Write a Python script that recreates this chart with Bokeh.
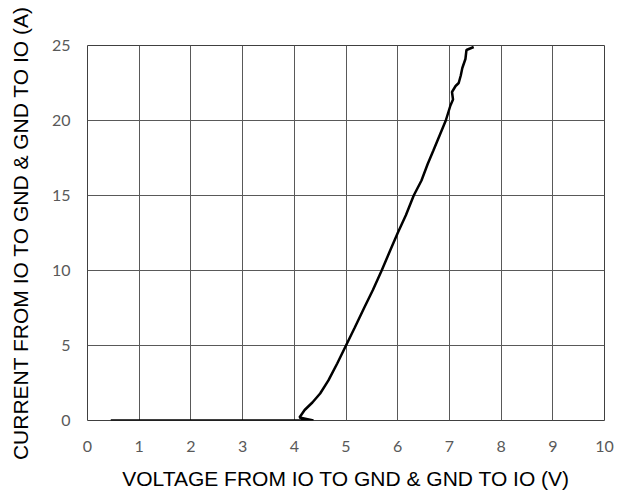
from bokeh.plotting import figure
from bokeh.models import Range1d, FixedTicker
from bokeh.embed import file_html
from bokeh.resources import INLINE

# Data
voltage = [0.45, 1.0, 2.0, 3.0, 4.0, 4.37, 4.1, 4.2, 4.35, 4.5, 4.66, 4.83, 5.0, 5.17,
           5.35, 5.52, 5.69, 5.85, 6.0, 6.16, 6.31, 6.46, 6.58, 6.69, 6.81, 6.93,
           7.02, 7.07, 7.05, 7.12, 7.18, 7.22, 7.25, 7.31, 7.33, 7.40, 7.47]
current = [0, 0, 0, 0, 0, 0, 0.2, 0.7, 1.2, 1.8, 2.67, 3.8, 5.0, 6.2,
           7.5, 8.7, 10.0, 11.3, 12.5, 13.7, 15.0, 16.0, 17.1, 18.0, 19.0, 20.0,
           21.0, 21.4, 21.9, 22.3, 22.5, 23.0, 23.5, 24.1, 24.7, 24.8, 24.9]
x_ticks = [0, 1, 2, 3, 4, 5, 6, 7, 8, 9, 10]
y_ticks = [0, 5, 10, 15, 20, 25]

p = figure(width=624, height=492, output_backend="svg", toolbar_location=None,
           x_range=Range1d(0, 10), y_range=Range1d(0, 25),
           min_border_left=87, min_border_right=20, min_border_top=45, min_border_bottom=72)

p.line(voltage, current, line_color="black", line_width=2.5)

p.outline_line_color = "#404040"
p.outline_line_width = 1
p.xgrid.grid_line_color = "#595959"
p.ygrid.grid_line_color = "#595959"
p.xgrid.grid_line_width = 1
p.ygrid.grid_line_width = 1

p.xaxis.ticker = FixedTicker(ticks=x_ticks)
p.yaxis.ticker = FixedTicker(ticks=y_ticks)
for ax in (p.xaxis[0], p.yaxis[0]):
    ax.axis_line_color = None
    ax.major_tick_line_color = None
    ax.minor_tick_line_color = None
    ax.major_tick_out = 0
    ax.major_tick_in = 0
    ax.major_label_text_font = "Lato"
    ax.major_label_text_font_size = "16px"
    ax.major_label_text_color = "#595959"
    ax.axis_label_text_font = "Liberation Sans"
    ax.axis_label_text_font_size = "21px"
    ax.axis_label_text_font_style = "normal"
    ax.axis_label_text_color = "black"

p.xaxis.axis_label = "VOLTAGE FROM IO TO GND & GND TO IO (V)"
p.yaxis.axis_label = "CURRENT FROM IO TO GND & GND TO IO (A)"
p.xaxis.major_label_standoff = 20
p.yaxis.major_label_standoff = 17
p.xaxis.axis_label_standoff = 12
p.yaxis.axis_label_standoff = 17

open("out.html", "w").write(file_html(p, INLINE))
